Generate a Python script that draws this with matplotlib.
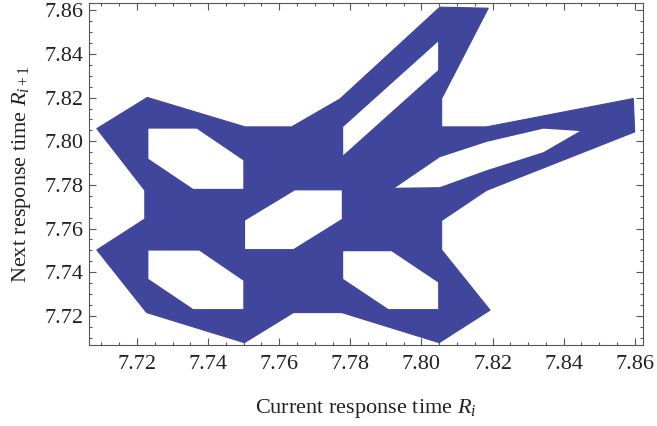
import matplotlib
matplotlib.use("Agg")
import matplotlib.pyplot as plt
from matplotlib.ticker import MultipleLocator, FormatStrFormatter

# outline of the (R_i, R_i+1) return-map region
outer_x = [7.7087, 7.7229, 7.7504, 7.7635, 7.7771, 7.8052, 7.8188, 7.8057,
           7.8057, 7.8183, 7.8596, 7.8600, 7.8183, 7.8057, 7.8057, 7.8193,
           7.8050, 7.7776, 7.7640, 7.7502, 7.7227, 7.7087, 7.7222, 7.7222]
outer_y = [7.8058, 7.8201, 7.8066, 7.8066, 7.8194, 7.8615, 7.8610, 7.8196,
           7.8066, 7.8066, 7.8196, 7.8043, 7.7775, 7.7637, 7.7502, 7.7226,
           7.7077, 7.7215, 7.7215, 7.7077, 7.7215, 7.7502, 7.7644, 7.7775]

# empty pockets inside the region
holes = {
    "upper_left": ([7.7232, 7.7368, 7.7499, 7.7499, 7.7358, 7.7232],
                   [7.8058, 7.8058, 7.7913, 7.7782, 7.7782, 7.7920]),
    "lower_left": ([7.7232, 7.7375, 7.7499, 7.7499, 7.7358, 7.7232],
                   [7.7499, 7.7499, 7.7361, 7.7231, 7.7231, 7.7369]),
    "centre": ([7.7504, 7.7644, 7.7776, 7.7776, 7.7640, 7.7504],
               [7.7637, 7.7775, 7.7775, 7.7644, 7.7506, 7.7506]),
    "lower_right": ([7.7780, 7.7916, 7.8047, 7.8047, 7.7907, 7.7780],
                    [7.7496, 7.7496, 7.7353, 7.7231, 7.7231, 7.7369]),
    "upper_arm": ([7.7780, 7.8047, 7.8047, 7.7780],
                  [7.8066, 7.8457, 7.8326, 7.7936]),
    "right_arm": ([7.7926, 7.8052, 7.8183, 7.8343, 7.8446, 7.8343, 7.8183, 7.8052],
                  [7.7787, 7.7927, 7.7997, 7.8058, 7.8047, 7.7950, 7.7867, 7.7790]),
}

x_limits = (7.7065, 7.8623)
y_limits = (7.7066, 7.8634)

blue = "#3f469c"
frame = "#555555"

plt.rcParams["font.family"] = ["Liberation Serif", "DejaVu Serif"]
plt.rcParams["mathtext.fontset"] = "custom"
plt.rcParams["mathtext.rm"] = "Liberation Serif"
plt.rcParams["mathtext.it"] = "Liberation Serif:italic"

fig = plt.figure(figsize=(6.57, 4.26), dpi=100)
ax = fig.add_axes([0.1355, 0.190, 0.843, 0.803])

ax.fill(outer_x, outer_y, color=blue, lw=0.8, joinstyle="round", zorder=2)
for hx, hy in holes.values():
    ax.fill(hx, hy, color="white", lw=0, zorder=3)

ax.set_xlim(*x_limits)
ax.set_ylim(*y_limits)

for axis in (ax.xaxis, ax.yaxis):
    axis.set_major_locator(MultipleLocator(0.02))
    axis.set_minor_locator(MultipleLocator(0.005))
    axis.set_major_formatter(FormatStrFormatter("%.2f"))

ax.tick_params(which="both", direction="in", top=True, right=True,
               color=frame, width=0.8, labelsize=16, labelcolor="#222222")
ax.tick_params(which="major", length=5)
ax.tick_params(which="minor", length=2.5)
ax.tick_params(axis="x", pad=7)
ax.tick_params(axis="y", pad=4)
for sp in ax.spines.values():
    sp.set_color(frame)
    sp.set_linewidth(0.8)

ax.set_xlabel("Current response time $R_i$", fontsize=16, color="#222222",
              labelpad=17)
ax.set_ylabel("Next response time $R_{i+1}$", fontsize=16, color="#222222",
              labelpad=8)

fig.savefig("out.png", dpi=100)
